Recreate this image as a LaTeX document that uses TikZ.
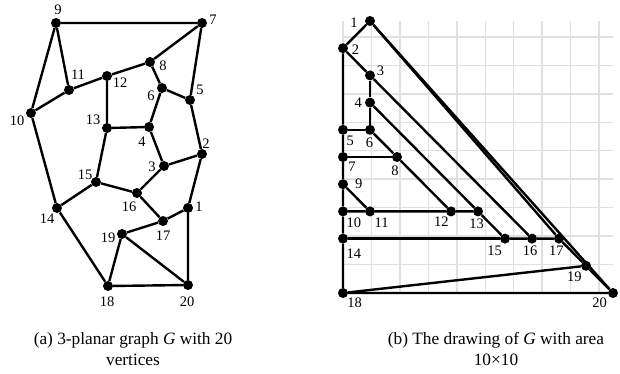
\documentclass[tikz,border=0pt]{standalone}
\usepackage{fontspec}
\setmainfont{Liberation Serif}

\begin{document}
\begin{tikzpicture}[x=1pt, y=-1pt,
    dot/.style={circle, fill=black, inner sep=0pt, minimum size=10pt},
    edge/.style={line width=2.4pt},
    lbl/.style={font=\fontsize{14.5}{14.5}\selectfont, inner sep=0pt},
    captxt/.style={font=\fontsize{17.3}{21}\selectfont, align=center, inner sep=0pt, anchor=north},
    gridln/.style={draw=black!12, line width=1.5pt}
]
\useasboundingbox (0,0) rectangle (620,373);

% (a) 3-planar graph G
\node[dot] (a1) at (188,208) {};  \node[lbl] (ta1) at (199,207) {1};
\node[dot] (a2) at (202,154) {};  \node[lbl] (ta2) at (206,144) {2};
\node[dot] (a3) at (164,166) {};  \node[lbl] (ta3) at (152,167) {3};
\node[dot] (a4) at (149,127) {};  \node[lbl] (ta4) at (142,142) {4};
\node[dot] (a5) at (190,100) {};  \node[lbl] (ta5) at (200,90) {5};
\node[dot] (a6) at (162,88) {};   \node[lbl] (ta6) at (151,96) {6};
\node[dot] (a7) at (202,23) {};   \node[lbl] (ta7) at (213,20) {7};
\node[dot] (a8) at (150,62) {};   \node[lbl] (ta8) at (163,66) {8};
\node[dot] (a9) at (56,23) {};    \node[lbl] (ta9) at (58,10) {9};
\node[dot] (a10) at (31,113) {};  \node[lbl] (ta10) at (17,121) {10};
\node[dot] (a11) at (69,90) {};   \node[lbl] (ta11) at (78,75) {11};
\node[dot] (a12) at (107,76) {};  \node[lbl] (ta12) at (120,83) {12};
\node[dot] (a13) at (107,128) {}; \node[lbl] (ta13) at (93,120) {13};
\node[dot] (a14) at (57,208) {};  \node[lbl] (ta14) at (47,219) {14};
\node[dot] (a15) at (96,182) {};  \node[lbl] (ta15) at (85,175) {15};
\node[dot] (a16) at (137,193) {}; \node[lbl] (ta16) at (129,207) {16};
\node[dot] (a17) at (163,221) {}; \node[lbl] (ta17) at (163,236) {17};
\node[dot] (a18) at (108,286) {}; \node[lbl] (ta18) at (107,302) {18};
\node[dot] (a19) at (122,234) {}; \node[lbl] (ta19) at (108,238) {19};
\node[dot] (a20) at (188,285) {}; \node[lbl] (ta20) at (187,302) {20};

\draw[edge] (a9) -- (a7) -- (a5) -- (a2) -- (a1) -- (a20) -- (a18) -- (a14) -- (a10) -- (a9);
\draw[edge] (a9) -- (a11) -- (a12) -- (a8) -- (a7);
\draw[edge] (a10) -- (a11);
\draw[edge] (a8) -- (a6) -- (a5);
\draw[edge] (a12) -- (a13) -- (a4) -- (a6);
\draw[edge] (a4) -- (a3) -- (a2);
\draw[edge] (a13) -- (a15) -- (a16) -- (a3);
\draw[edge] (a14) -- (a15);
\draw[edge] (a16) -- (a17) -- (a1);
\draw[edge] (a17) -- (a19) -- (a18);
\draw[edge] (a19) -- (a20);

% (b) grid drawing of G, area 10x10
\begin{scope}[xshift=343pt, yshift=-293pt, x=27pt, y=27.2pt]
\draw[gridln] (0,0) grid (10,10);

\node[dot] (b1) at (1,10) {};  \node[lbl] (tb1) at (0.41,9.94) {1};
\node[dot] (b2) at (0,9) {};   \node[lbl] (tb2) at (0.46,8.93) {2};
\node[dot] (b3) at (1,8) {};   \node[lbl] (tb3) at (1.39,8.16) {3};
\node[dot] (b4) at (1,7) {};   \node[lbl] (tb4) at (0.56,7.0) {4};
\node[dot] (b5) at (0,6) {};   \node[lbl] (tb5) at (0.27,5.6) {5};
\node[dot] (b6) at (1,6) {};   \node[lbl] (tb6) at (0.98,5.54) {6};
\node[dot] (b7) at (0,5) {};   \node[lbl] (tb7) at (0.33,4.65) {7};
\node[dot] (b8) at (2,5) {};   \node[lbl] (tb8) at (1.93,4.5) {8};
\node[dot] (b9) at (0,4) {};   \node[lbl] (tb9) at (0.58,4.0) {9};
\node[dot] (b10) at (0,3) {};  \node[lbl] (tb10) at (0.4,2.6) {10};
\node[dot] (b11) at (1,3) {};  \node[lbl] (tb11) at (1.43,2.6) {11};
\node[dot] (b12) at (4,3) {};  \node[lbl] (tb12) at (3.64,2.62) {12};
\node[dot] (b13) at (5,3) {};  \node[lbl] (tb13) at (4.95,2.55) {13};
\node[dot] (b14) at (0,2) {};  \node[lbl] (tb14) at (0.4,1.46) {14};
\node[dot] (b15) at (6,2) {};  \node[lbl] (tb15) at (5.62,1.54) {15};
\node[dot] (b16) at (7,2) {};  \node[lbl] (tb16) at (6.93,1.54) {16};
\node[dot] (b17) at (8,2) {};  \node[lbl] (tb17) at (7.9,1.54) {17};
\node[dot] (b18) at (0,0) {};  \node[lbl] (tb18) at (0.43,-0.36) {18};
\node[dot] (b19) at (9,1) {};  \node[lbl] (tb19) at (8.57,0.61) {19};
\node[dot] (b20) at (10,0) {}; \node[lbl] (tb20) at (9.5,-0.36) {20};

\draw[edge] (b1) -- (b2) -- (b5) -- (b7) -- (b9) -- (b10) -- (b14) -- (b18) -- (b20) -- (b1);
\draw[edge] (b1) -- (b17) -- (b19) -- (b20);
\draw[edge] (b18) -- (b19);
\draw[edge] (b2) -- (b3) -- (b16);
\draw[edge] (b3) -- (b4) -- (b6) -- (b5);
\draw[edge] (b4) -- (b13);
\draw[edge] (b6) -- (b8) -- (b12);
\draw[edge] (b7) -- (b8);
\draw[edge] (b9) -- (b11) -- (b10);
\draw[edge] (b11) -- (b12) -- (b13) -- (b15) -- (b16) -- (b17);
\draw[edge] (b14) -- (b15);
\end{scope}

% captions
\node[captxt] (capa) at (133,332) {(a) 3-planar graph \textit{G} with 20\\vertices};
\node[captxt] (capb) at (496,332) {(b) The drawing of \textit{G} with area\\10×10};
\end{tikzpicture}
\end{document}
